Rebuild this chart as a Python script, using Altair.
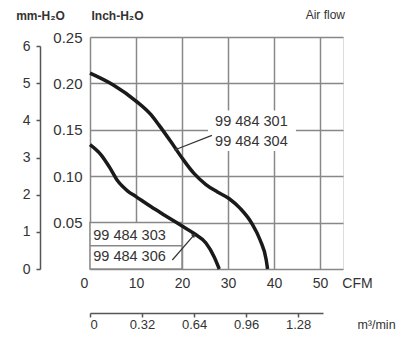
import altair as alt
import pandas as pd

# Curve 99 484 301 / 304 (CFM, inch-H2O)
cfm_a = [0, 5.15, 10, 13.3, 15, 17.6, 20.1, 22.6, 25.2, 27.7, 30.2, 32.7, 35.2, 37.0, 38.3, 38.6]
inh_a = [0.211, 0.198, 0.181, 0.166, 0.155, 0.137, 0.119, 0.103, 0.091, 0.083, 0.076, 0.065, 0.049, 0.031, 0.010, 0.0]
# Curve 99 484 303 / 306
cfm_b = [0, 2.4, 4.2, 6.0, 8.2, 10, 13.3, 16.2, 20.1, 22.7, 25.2, 27.0, 28.1]
inh_b = [0.134, 0.123, 0.110, 0.095, 0.084, 0.078, 0.067, 0.058, 0.046, 0.038, 0.028, 0.013, 0.0]

x_grid = [0, 5, 10, 15, 20, 25, 30, 35, 40, 45, 50, 55]
y_grid = [0, 0.025, 0.05, 0.075, 0.1, 0.125, 0.15, 0.175, 0.2, 0.225, 0.25]
mm_ticks = [0, 1, 2, 3, 4, 5, 6]
m3_ticks = [0, 0.32, 0.64, 0.96, 1.28]

labels_txt = ["99 484 301", "99 484 304", "99 484 303", "99 484 306"]
labels_x = [27.2, 27.2, 0.7, 0.7]
labels_y = [0.158, 0.137, 0.036, 0.0125]

header_txt = ["Air flow"]
header_x = [55]
header_y = [0.25]

# label boxes (CFM, inch)
box_x = [25.8, 0]
box_x2 = [44.6, 20]
box_y = [0.128, 0]
box_y2 = [0.170, 0.05]
box_stroke = ["white", "#888888"]

# leader lines
lead_x = [26.5, 17.9]
lead_y = [0.144, 0.0097]
lead_x2 = [18.8, 22.5]
lead_y2 = [0.129, 0.036]
lead_angle = [250, 46]

FONT = "Liberation Sans"
TXT = "#333333"
GRID = "#888888"

curves = pd.DataFrame({
    "cfm": cfm_a + cfm_b,
    "inch": inh_a + inh_b,
    "series": ["a"] * len(cfm_a) + ["b"] * len(cfm_b),
})
labels = pd.DataFrame({"t": labels_txt, "x": labels_x, "y": labels_y})
header = pd.DataFrame({"t": header_txt, "x": header_x, "y": header_y})
boxes = pd.DataFrame({"x": box_x, "x2": box_x2, "y": box_y, "y2": box_y2, "s": box_stroke})
leads = pd.DataFrame({"x": lead_x, "y": lead_y, "x2": lead_x2, "y2": lead_y2, "a": lead_angle})
inner = pd.DataFrame({"x": [0], "x2": [20], "y": [0.025]})

xs = alt.Scale(domain=[0, 55], nice=False, zero=False)
ys = alt.Scale(domain=[0, 0.25], nice=False, zero=False)

x_axis = alt.Axis(
    values=x_grid, grid=True, gridColor=GRID, gridWidth=1.5, gridOpacity=1,
    domain=False, ticks=False, labelFont=FONT, labelFontSize=14, labelColor=TXT,
    labelPadding=7,
    labelExpr="(datum.value % 10 === 0 && datum.value <= 50) ? datum.label : ''",
    labelOffset={"condition": {"test": "datum.value === 0", "value": -10}, "value": 0},
    title="CFM", titleFont=FONT, titleFontSize=14, titleFontWeight="normal", titleColor=TXT,
    titleX=267, titleY=7, titleAlign="center", titleBaseline="top", titleAngle=0,
)
y_axis = alt.Axis(
    values=y_grid, grid=True, gridColor=GRID, gridWidth=1.5, gridOpacity=1,
    domain=False, ticks=False, labelFont=FONT, labelFontSize=15, labelColor=TXT,
    labelPadding=8,
    labelExpr="(datum.value > 0.001 && abs(datum.value / 0.05 - round(datum.value / 0.05)) < 0.001) ? format(datum.value, '.2f') : ''",
    title="Inch-H₂O", titleFont=FONT, titleFontSize=12, titleFontWeight="bold", titleColor=TXT,
    titleAngle=0, titleX=27, titleY=-22, titleAlign="center", titleBaseline="middle",
)

curve_layer = alt.Chart(curves).mark_line(
    color="#1a1a1a", strokeWidth=3.5, interpolate="monotone"
).encode(
    x=alt.X("cfm:Q", scale=xs, axis=x_axis),
    y=alt.Y("inch:Q", scale=ys, axis=y_axis),
    detail="series:N",
)

box_layer = alt.Chart(boxes).mark_rect(fill="white", strokeWidth=1.5).encode(
    x=alt.X("x:Q", scale=xs), x2="x2", y=alt.Y("y:Q", scale=ys), y2="y2",
    stroke=alt.Stroke("s:N", scale=None),
)
inner_layer = alt.Chart(inner).mark_rule(color=GRID, strokeWidth=1.5).encode(
    x=alt.X("x:Q", scale=xs), x2="x2", y=alt.Y("y:Q", scale=ys)
)
lead_layer = alt.Chart(leads).mark_rule(color="#333333", strokeWidth=1.2).encode(
    x=alt.X("x:Q", scale=xs), x2="x2", y=alt.Y("y:Q", scale=ys), y2="y2"
)
arrow_layer = alt.Chart(leads).mark_point(
    shape="triangle", filled=True, color="#333333", size=22, opacity=1
).encode(
    x=alt.X("x2:Q", scale=xs), y=alt.Y("y2:Q", scale=ys), angle=alt.Angle("a:Q", scale=None)
)
text_layer = alt.Chart(labels).mark_text(
    align="left", baseline="middle", font=FONT, fontSize=14.5, color=TXT
).encode(
    x=alt.X("x:Q", scale=xs), y=alt.Y("y:Q", scale=ys), text="t:N"
)
header_layer = alt.Chart(header).mark_text(
    align="right", baseline="middle", font=FONT, fontSize=12, color=TXT, dx=2, dy=-22
).encode(
    x=alt.X("x:Q", scale=xs), y=alt.Y("y:Q", scale=ys), text="t:N"
)

main = alt.layer(box_layer, inner_layer, curve_layer, lead_layer, arrow_layer, text_layer,
                 header_layer)

mm_layer = alt.Chart(pd.DataFrame({"mm": mm_ticks})).mark_point(opacity=0).encode(
    y=alt.Y("mm:Q", scale=alt.Scale(domain=[0, 6], range=[232, 9], nice=False, zero=False),
            axis=alt.Axis(orient="left", offset=50, values=mm_ticks, grid=False,
                          domain=True, domainColor="#555555", domainWidth=1.5,
                          ticks=True, tickSize=4, tickColor="#555555", tickWidth=1.5,
                          labelFont=FONT, labelFontSize=14, labelColor=TXT, labelPadding=6,
                          title="mm-H₂O", titleFont=FONT, titleFontSize=12,
                          titleFontWeight="bold", titleColor=TXT, titleAngle=0,
                          titleX=0, titleY=-22, titleAlign="center", titleBaseline="middle"))
)

m3_layer = alt.Chart(pd.DataFrame({"m3": m3_ticks})).mark_point(opacity=0).encode(
    x=alt.X("m3:Q", scale=alt.Scale(domain=[0, 1.433], range=[0, 233], nice=False, zero=False),
            axis=alt.Axis(orient="bottom", offset=44, values=m3_ticks, grid=False,
                          domain=True, domainColor="#555555", domainWidth=1.5,
                          ticks=True, tickSize=4, tickColor="#555555", tickWidth=1.5,
                          labelFont=FONT, labelFontSize=13, labelColor=TXT, labelPadding=1,
                          labelExpr="datum.value === 0 ? '0' : format(datum.value, '.2f')",
                          title="m³/min", titleFont=FONT, titleFontSize=12.5,
                          titleFontWeight="normal", titleColor=TXT, titleAngle=0,
                          titleX=286, titleY=5, titleAlign="center", titleBaseline="top"))
)

chart = alt.layer(main, mm_layer, m3_layer).resolve_scale(
    x="independent", y="independent"
).properties(
    width=253, height=232,
    autosize=alt.AutoSizeParams(type="none"),
    padding={"left": 82, "top": 29, "right": 56, "bottom": 63},
).configure_view(stroke=None).configure(background="white")

chart.save("out.html", embed_options={"renderer": "svg", "actions": False})
